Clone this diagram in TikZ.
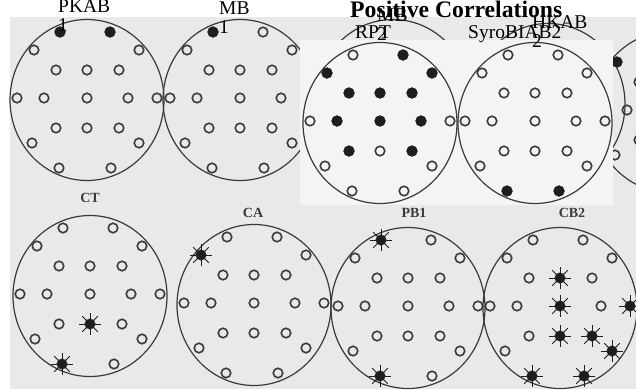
\documentclass[tikz,border=0pt]{standalone}
\usepackage{fontspec}
\setmainfont{Liberation Serif}
\usetikzlibrary{shapes.geometric}
\definecolor{scan}{HTML}{E8E9EB}
\definecolor{patch}{HTML}{F4F4F4}
\definecolor{ink}{HTML}{3A3A3A}
\definecolor{dotink}{HTML}{1E1E1E}
\tikzset{
  headring/.style={draw=ink, ellipse, minimum width=154pt, minimum height=161pt,
                   line width=1.2pt, inner sep=0pt},
  eopen/.style={circle, draw=ink, line width=1.6pt, minimum size=9.5pt, inner sep=0pt},
  efull/.style={circle, fill=dotink, minimum size=11pt, inner sep=0pt},
  estar/.style={circle, fill=dotink, minimum size=9.5pt, inner sep=0pt},
  ray/.style={draw=dotink, line width=0.9pt},
  toplab/.style={font=\fontsize{19.5}{19}\selectfont, align=left, inner sep=0pt, anchor=base west},
  scanlab/.style={font=\fontsize{14}{14}\selectfont\bfseries, text=ink, inner sep=0pt}
}
% 10-20 sites, offsets from the head centre
\newcommand{\elist}{-27/-68/fpl, 23/-68/fpr, -53/-50/f7, 52/-50/f8, -31/-30/f3, 0/-30/fz,
  32/-30/f4, -70/-2/t3, -43/-2/c3, 0/-2/cz, 41/-2/c4, 70/-2/t4, -55/43/t5, 52/43/t6,
  -31/28/p3, 0/28/pz, 32/28/p4, -28/68/o1, 24/68/o2}

\begin{document}
\begin{tikzpicture}[x=1pt,y=-1pt]
  \useasboundingbox (0,0) rectangle (636,389);
  \fill[scan] (10,17) rectangle (636,389);

  % top row, scanned
  \begin{scope}[shift={(87,100)}, name prefix=pkab-]
    \node[headring] (ring) at (0,0) {};
    \foreach \dx/\dy/\en in \elist {\node[eopen] (\en) at (\dx,\dy) {};}
    \foreach \en in {fpl,fpr} {\node[efull] (\en-on) at (\en) {};}
  \end{scope}
  \begin{scope}[shift={(240,100)}, name prefix=mba-]
    \node[headring] (ring) at (0,0) {};
    \foreach \dx/\dy/\en in \elist {\node[eopen] (\en) at (\dx,\dy) {};}
    \foreach \en in {fpl} {\node[efull] (\en-on) at (\en) {};}
  \end{scope}
  \node[headring] (hida) at (393,100) {};
  \node[headring] (hidb) at (548,104) {};
  \begin{scope}[shift={(670,112)}, name prefix=hkab-]
    \node[headring] (ring) at (0,0) {};
    \foreach \dx/\dy/\en in \elist {\node[eopen] (\en) at (\dx,\dy) {};}
    \foreach \en in {f7} {\node[efull] (\en-on) at (\en) {};}
  \end{scope}

  % pasted patch
  \fill[patch] (300,40) rectangle (613,205);
  \begin{scope}[shift={(380,123)}, name prefix=rpt-]
    \node[headring] (ring) at (0,0) {};
    \foreach \dx/\dy/\en in \elist {\node[eopen] (\en) at (\dx,\dy) {};}
    \foreach \en in {fpr,f7,f8,f3,fz,f4,c3,cz,c4,p3,p4} {\node[efull] (\en-on) at (\en) {};}
  \end{scope}
  \begin{scope}[shift={(535,123)}, name prefix=syro-]
    \node[headring] (ring) at (0,0) {};
    \foreach \dx/\dy/\en in \elist {\node[eopen] (\en) at (\dx,\dy) {};}
    \foreach \en in {o1,o2} {\node[efull] (\en-on) at (\en) {};}
  \end{scope}

  % bottom row
  \begin{scope}[shift={(90,296)}, name prefix=ct-]
    \node[headring] (ring) at (0,0) {};
    \foreach \dx/\dy/\en in \elist {\node[eopen] (\en) at (\dx,\dy) {};}
    \foreach \en in {pz,o1} {
      \node[estar] (\en-on) at (\en) {};
      \foreach \a in {0,45,...,315} {\draw[ray] (\en-on.center) -- ++(\a:11);}
    }
  \end{scope}
  \begin{scope}[shift={(254,305)}, name prefix=ca-]
    \node[headring] (ring) at (0,0) {};
    \foreach \dx/\dy/\en in \elist {\node[eopen] (\en) at (\dx,\dy) {};}
    \foreach \en in {f7} {
      \node[estar] (\en-on) at (\en) {};
      \foreach \a in {0,45,...,315} {\draw[ray] (\en-on.center) -- ++(\a:11);}
    }
  \end{scope}
  \begin{scope}[shift={(408,308)}, name prefix=pb-]
    \node[headring] (ring) at (0,0) {};
    \foreach \dx/\dy/\en in \elist {\node[eopen] (\en) at (\dx,\dy) {};}
    \foreach \en in {fpl,o1} {
      \node[estar] (\en-on) at (\en) {};
      \foreach \a in {0,45,...,315} {\draw[ray] (\en-on.center) -- ++(\a:11);}
    }
  \end{scope}
  \begin{scope}[shift={(560,308)}, name prefix=cb-]
    \node[headring] (ring) at (0,0) {};
    \foreach \dx/\dy/\en in \elist {\node[eopen] (\en) at (\dx,\dy) {};}
    \foreach \en in {fz,cz,pz,p4,t6,t4,o1,o2} {
      \node[estar] (\en-on) at (\en) {};
      \foreach \a in {0,45,...,315} {\draw[ray] (\en-on.center) -- ++(\a:11);}
    }
  \end{scope}

  % printed titles of the scan
  \node[scanlab] (ctlab) at (90,198) {CT};
  \node[scanlab] (calab) at (253,213) {CA};
  \node[scanlab] (pblab) at (414,213) {PB1};
  \node[scanlab] (cblab) at (572,213) {CB2};

  % typed labels on top (base = last line)
  \node[toplab] (pkablab) at (58,31) {PKAB\\1};
  \node[toplab] (mbalab) at (219,33) {MB\\1};
  \node[toplab] (rptlab) at (355,38) {RPT};
  \node[toplab] (syrolab) at (468,38) {SyroBIAB2};
  \node[toplab] (mbblab) at (377,40) {MB\\2};
  \node[toplab] (hkablab) at (532,47) {HKAB\\2};
  \node[font=\fontsize{23.7}{24}\selectfont\bfseries, inner sep=0pt, anchor=base west]
    (title) at (350,17) {Positive Correlations};
\end{tikzpicture}
\end{document}
